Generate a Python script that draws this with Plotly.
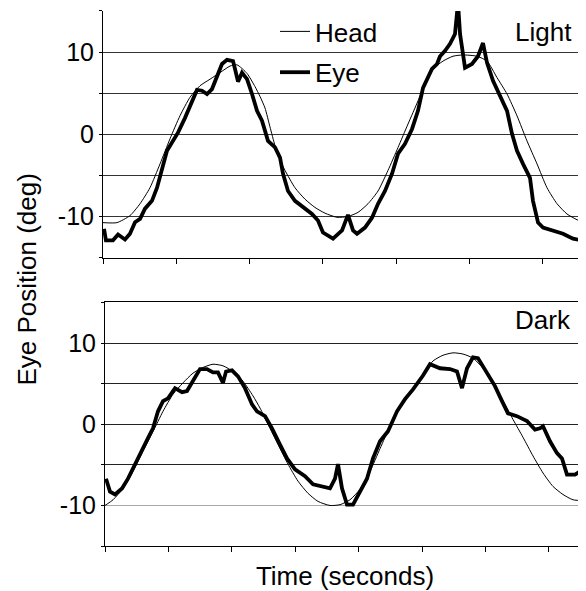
import plotly.graph_objects as go

# ---------------- data (time in tick units, position in deg) ----------------
light_head_t = [0.0, 0.19, 0.368, 0.505, 0.641, 0.778, 0.914, 1.05, 1.187, 1.323, 1.46, 1.596, 1.733,
                1.828, 1.965, 2.074, 2.142, 2.21, 2.278, 2.347, 2.415, 2.483, 2.619, 2.756, 2.892,
                3.029, 3.192, 3.342, 3.479, 3.615, 3.752, 3.888, 4.025, 4.161, 4.297, 4.393, 4.502,
                4.638, 4.775, 4.911, 5.102, 5.239, 5.375, 5.512, 5.648, 5.784, 5.921, 6.057, 6.194,
                6.33, 6.467, 6.562]
light_head_y = [-10.75, -10.75, -9.9, -8.45, -6.5, -3.6, -0.55, 2.25, 4.5, 5.9, 6.7, 7.5, 8.3,
                8.45, 7.4, 5.8, 4.6, 3.2, 0.9, -1.4, -3.1, -4.4, -6.5, -7.9, -8.9,
                -9.6, -10.1, -10.0, -9.5, -8.45, -6.9, -4.4, -1.6, 1.25, 4.05, 6.2, 7.95,
                8.9, 9.5, 9.65, 9.5, 8.9, 6.9, 4.9, 2.25, -0.8, -3.6, -6.5, -8.45,
                -9.7, -10.4, -10.75]

light_eye_t = [0.014, 0.04, 0.136, 0.205, 0.30, 0.368, 0.437, 0.505, 0.573, 0.668, 0.737, 0.805,
               0.873, 0.941, 1.023, 1.119, 1.214, 1.282, 1.351, 1.419, 1.487, 1.555, 1.623, 1.692,
               1.774, 1.801, 1.842, 1.896, 1.965, 2.033, 2.101, 2.169, 2.251, 2.347, 2.415, 2.456,
               2.524, 2.619, 2.729, 2.851, 2.933, 3.001, 3.138, 3.261, 3.342, 3.411, 3.465, 3.574,
               3.67, 3.752, 3.847, 3.943, 4.025, 4.12, 4.216, 4.297, 4.366, 4.488, 4.557, 4.598,
               4.666, 4.734, 4.802, 4.843, 4.871, 4.939, 5.034, 5.116, 5.184, 5.239, 5.321, 5.416,
               5.512, 5.58, 5.648, 5.73, 5.825, 5.866, 5.935, 6.003, 6.139, 6.276, 6.412, 6.562]
light_eye_y = [-11.5, -12.9, -12.9, -12.2, -12.8, -12.1, -10.7, -10.3, -9.05, -8.1, -6.5, -4.4,
               -2.0, -1.0, 0.2, 2.0, 4.05, 5.4, 5.3, 4.9, 5.5, 6.9, 8.55, 9.05,
               8.9, 7.95, 6.4, 7.5, 6.7, 4.9, 2.85, 1.65, -0.8, -1.6, -2.85, -4.8,
               -6.9, -8.1, -8.9, -9.7, -10.5, -11.95, -12.7, -11.7, -9.8, -11.7, -12.1, -11.35,
               -10.15, -8.45, -6.9, -4.8, -2.35, -1.15, 0.65, 2.85, 5.65, 7.95, 8.55, 9.5,
               10.15, 11.0, 12.2, 16.0, 12.2, 8.1, 8.55, 9.5, 11.1, 8.7, 6.5, 4.7,
               2.85, 0.05, -2.0, -3.6, -5.3, -8.1, -10.75, -11.35, -11.7, -12.1, -12.7, -12.95]

dark_head_t = [0.0, 0.126, 0.284, 0.442, 0.599, 0.757, 0.915, 1.073, 1.230, 1.388, 1.546, 1.703,
               1.861, 2.019, 2.177, 2.334, 2.445, 2.571, 2.729, 2.886, 3.044, 3.202, 3.360, 3.549,
               3.707, 3.864, 4.022, 4.180, 4.338, 4.495, 4.653, 4.811, 4.968, 5.174, 5.331, 5.489,
               5.647, 5.804, 5.962, 6.120, 6.278, 6.435, 6.593, 6.751, 6.909, 7.066, 7.224, 7.382,
               7.571]
dark_head_y = [-10.0, -9.3, -7.9, -5.8, -3.3, -0.9, 1.6, 3.7, 5.1, 6.3, 7.0, 7.4,
               7.2, 6.5, 5.3, 3.5, 2.0, 0.0, -2.5, -4.9, -7.0, -8.5, -9.5, -10.0,
               -9.9, -9.3, -8.0, -5.8, -3.0, -0.25, 2.0, 3.8, 5.55, 7.8, 8.5, 8.8,
               8.65, 8.15, 6.9, 4.9, 2.9, 0.6, -1.6, -3.9, -6.0, -7.65, -8.65, -9.3,
               -9.4]

dark_eye_t = [0.016, 0.079, 0.158, 0.268, 0.363, 0.473, 0.584, 0.678, 0.757, 0.836, 0.915, 0.994,
              1.104, 1.215, 1.293, 1.388, 1.498, 1.609, 1.703, 1.782, 1.861, 1.909, 2.003, 2.098,
              2.208, 2.319, 2.397, 2.524, 2.634, 2.760, 2.871, 2.997, 3.155, 3.281, 3.423, 3.549,
              3.628, 3.675, 3.738, 3.817, 3.912, 4.022, 4.132, 4.227, 4.338, 4.464, 4.606, 4.732,
              4.858, 5.016, 5.126, 5.284, 5.442, 5.552, 5.631, 5.710, 5.804, 5.883, 6.025, 6.151,
              6.262, 6.356, 6.498, 6.656, 6.782, 6.861, 6.909, 7.019, 7.129, 7.208, 7.287, 7.413,
              7.492, 7.555]
dark_eye_y = [-6.7, -8.3, -8.65, -7.9, -6.7, -4.9, -3.0, -1.7, -0.5, 1.6, 2.85, 3.2,
              4.45, 3.95, 4.1, 5.3, 6.8, 6.8, 6.4, 6.4, 5.1, 6.5, 6.65, 5.9,
              4.45, 2.45, 1.6, 1.0, -0.5, -2.5, -4.2, -5.55, -6.4, -7.4, -7.65, -7.9,
              -6.7, -4.9, -7.9, -9.9, -9.9, -8.3, -6.7, -4.2, -2.1, -0.85, 1.6, 3.1,
              4.3, 6.0, 7.4, 6.9, 6.8, 6.5, 4.45, 6.9, 8.25, 8.15, 6.3, 4.7,
              2.85, 1.35, 1.0, 0.4, -0.65, -0.5, -0.25, -2.1, -3.55, -4.2, -6.2, -6.2,
              -5.8, -4.9]

y_tick_vals = [-15, -10, -5, 0, 5, 10, 15]
y_tick_text = ["", "-10", "", "0", "", "10", ""]
dark_dark_grid_vals = [-15, -5, 0, 5, 10, 15]
dark_dark_grid_text = ["", "", "0", "", "10", ""]
dark_light_grid_vals = [-10]
dark_light_grid_text = ["-10"]
panel_labels = ["Light", "Dark"]
series_names = ["Head", "Eye"]

# ---------------- figure ----------------
FONT = "Liberation Sans, Arial, sans-serif"
OFF = 8                      # page body margin
W, H = 586 - OFF, 591 - OFF


def px_x(p):
    return (p - OFF) / W


def px_y(p):
    return 1 - (p - OFF) / H


fig = go.Figure()
fig.add_trace(go.Scatter(x=light_head_t, y=light_head_y, mode="lines", name=series_names[0],
                         line=dict(color="black", width=1, shape="spline", smoothing=0.6),
                         xaxis="x", yaxis="y", legendgroup="h"))
fig.add_trace(go.Scatter(x=light_eye_t, y=light_eye_y, mode="lines", name=series_names[1],
                         line=dict(color="black", width=3.8),
                         xaxis="x", yaxis="y", legendgroup="e"))
fig.add_trace(go.Scatter(x=dark_eye_t, y=dark_eye_y, mode="lines", name=series_names[1],
                         line=dict(color="black", width=3.8),
                         xaxis="x2", yaxis="y2", showlegend=False))
fig.add_trace(go.Scatter(x=dark_head_t, y=dark_head_y, mode="lines", name=series_names[0],
                         line=dict(color="black", width=1, shape="spline", smoothing=0.6),
                         xaxis="x2", yaxis="y3", showlegend=False))

xcommon = dict(tick0=0, dtick=1, ticks="outside", ticklen=5, tickcolor="black", tickwidth=1,
               showticklabels=False, showline=True, linecolor="black", linewidth=1,
               showgrid=False, zeroline=False, automargin=False)
ybase = dict(range=[-15, 15], tickmode="array", ticks="outside", ticklen=3, tickcolor="black",
             zeroline=False, showgrid=True, gridwidth=1,
             tickfont=dict(family=FONT, size=25, color="black"), automargin=False)

fig.update_layout(
    width=W, height=H,
    margin=dict(l=0, r=0, t=0, b=0),
    paper_bgcolor="white", plot_bgcolor="white",
    font=dict(family=FONT, size=26, color="black"),
    xaxis=dict(domain=[px_x(103), px_x(584)], range=[0, 6.562], anchor="y", **xcommon),
    yaxis=dict(domain=[px_y(257), px_y(10)], anchor="x", tickvals=y_tick_vals,
               ticktext=y_tick_text, gridcolor="#333333", showline=True,
               linecolor="black", linewidth=1, **ybase),
    xaxis2=dict(domain=[px_x(105), px_x(585)], range=[0, 7.571], anchor="y2", mirror=True,
                title=dict(text="Time (seconds)", font=dict(family=FONT, size=26), standoff=17),
                **xcommon),
    yaxis2=dict(domain=[px_y(546), px_y(302)], anchor="x2", mirror=True,
                tickvals=dark_dark_grid_vals, ticktext=dark_dark_grid_text,
                gridcolor="#222222", showline=True, linecolor="black", linewidth=1, **ybase),
    yaxis3=dict(overlaying="y2", anchor="x2", side="left", tickvals=dark_light_grid_vals,
                ticktext=dark_light_grid_text, gridcolor="#a8a8a8", showline=False, **ybase),
    legend=dict(x=px_x(275), y=px_y(7), xanchor="left", yanchor="top",
                bgcolor="rgba(0,0,0,0)", borderwidth=0, tracegroupgap=4,
                font=dict(family=FONT, size=26, color="black")),
    showlegend=True,
)

fig.add_annotation(text=panel_labels[0], xref="x domain", yref="y", x=1, y=12.5,
                   xanchor="right", yanchor="middle", xshift=-10, showarrow=False,
                   font=dict(family=FONT, size=26, color="black"))
fig.add_annotation(text=panel_labels[1], xref="x2 domain", yref="y2", x=1, y=12.9,
                   xanchor="right", yanchor="middle", xshift=-12, showarrow=False,
                   font=dict(family=FONT, size=26, color="black"))
fig.add_annotation(text="Eye Position (deg)", xref="paper", yref="paper",
                   x=px_x(27), y=px_y(279), xanchor="center", yanchor="middle",
                   textangle=-90, showarrow=False,
                   font=dict(family=FONT, size=26, color="black"))

fig.write_html("out.html")
